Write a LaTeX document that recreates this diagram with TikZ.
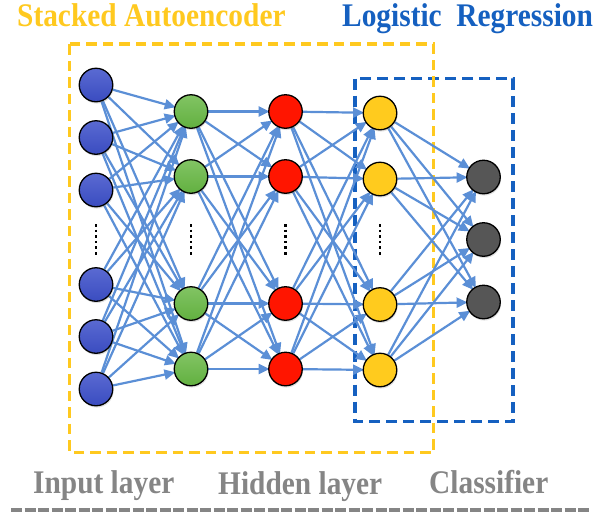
\documentclass[tikz,border=0pt]{standalone}
\usepackage{fontspec}
\setmainfont{Liberation Serif}
\usetikzlibrary{arrows.meta,shadows,backgrounds}
\definecolor{edgeblue}{HTML}{5B8FD6}
\definecolor{saeyellow}{HTML}{FFC91F}
\definecolor{lrblue}{HTML}{1560C0}
\definecolor{labelgray}{HTML}{858585}
\definecolor{inblue}{HTML}{3A4CC0}
\definecolor{inbluetop}{HTML}{5A6AD2}
\definecolor{hgreen}{HTML}{62B040}
\definecolor{hgreentop}{HTML}{82C464}
\definecolor{hred}{HTML}{FF1500}
\definecolor{hyellow}{HTML}{FFCB1E}
\definecolor{ogray}{HTML}{565656}
\pgfdeclarelayer{back}
\pgfsetlayers{back,background,main}
\newcommand{\condensed}[1]{\scalebox{0.89}[1]{#1}}
\tikzset{
  neuron/.style={circle, minimum size=33.5pt, inner sep=0pt, draw=black, line width=1.3pt,
    drop shadow={opacity=0.25, shadow xshift=0.8pt, shadow yshift=-1.8pt}},
  inneuron/.style={neuron, top color=inbluetop, bottom color=inblue},
  gneuron/.style={neuron, top color=hgreentop, bottom color=hgreen},
  rneuron/.style={neuron, fill=hred},
  yneuron/.style={neuron, fill=hyellow},
  oneuron/.style={neuron, fill=ogray},
  edge/.style={draw=edgeblue, line width=2.2pt, shorten >=-1.5pt, -{Triangle[length=11pt,width=10pt]}},
  dotcol/.style={line width=2.6pt, dash pattern=on 2.6pt off 3pt, black},
  saebox/.style={draw=saeyellow, line width=3.3pt, dash pattern=on 10.5pt off 6pt},
  lrbox/.style={draw=lrblue, line width=3.8pt, dash pattern=on 11pt off 6pt},
  title/.style={anchor=base west, inner sep=0pt, font=\fontsize{33}{33}\selectfont\bfseries},
  baseline rule/.style={draw=labelgray, line width=4pt, dash pattern=on 11pt off 2.5pt}
}
\begin{document}
\begin{tikzpicture}[x=1pt,y=-1pt]
\useasboundingbox (0,0) rectangle (612,512);
% neurons
\foreach \y [count=\i] in {85,137.5,190,284.5,336.5,389}
  \node[inneuron] (i\i) at (96,\y) {};
\foreach \y [count=\i] in {111.5,176.5,303.5,369}
  \node[gneuron] (h\i) at (191,\y) {};
\foreach \y [count=\i] in {111.5,176.5,303.5,369}
  \node[rneuron] (r\i) at (285.5,\y) {};
\foreach \y [count=\i] in {113,179,304.5,370}
  \node[yneuron] (y\i) at (380,\y) {};
\foreach \y [count=\i] in {177,239.5,302}
  \node[oneuron] (o\i) at (483.5,\y) {};
% edges
\begin{pgfonlayer}{background}
\foreach \a in {1,...,6} \foreach \b in {1,...,4} \draw[edge] (i\a) -- (h\b);
\foreach \a in {1,...,4} \foreach \b in {1,...,4} \draw[edge] (h\a) -- (r\b);
\foreach \a in {1,...,4} \foreach \b in {1,...,4} \draw[edge] (r\a) -- (y\b);
\foreach \a in {1,...,4} \foreach \b in {1,...,3} \draw[edge] (y\a) -- (o\b);
\end{pgfonlayer}
% dashed boxes
\begin{pgfonlayer}{back}
\draw[lrbox] (355,78.5) rectangle (513,421.5);
\draw[saebox] (69.5,44) rectangle (433.5,452.5);
\end{pgfonlayer}
% vertical dots
\foreach \x in {96,191,285.5,380}
  \draw[dotcol] (\x,224) -- (\x,256);
% titles
\node[title, text=saeyellow] (tsae) at (17,26) {\condensed{Stacked Autoencoder}};
\node[title, text=lrblue] (tlr) at (342,26) {\condensed{Logistic\ \ Regression}};
\node[title, text=labelgray] (tin) at (33,493) {\condensed{Input layer}};
\node[title, text=labelgray] (thid) at (218,494.5) {\condensed{Hidden layer}};
\node[title, text=labelgray] (tcls) at (429,493) {\condensed{Classifier}};
\draw[baseline rule] (11,509.5) -- (590,509.5);
\end{tikzpicture}
\end{document}
